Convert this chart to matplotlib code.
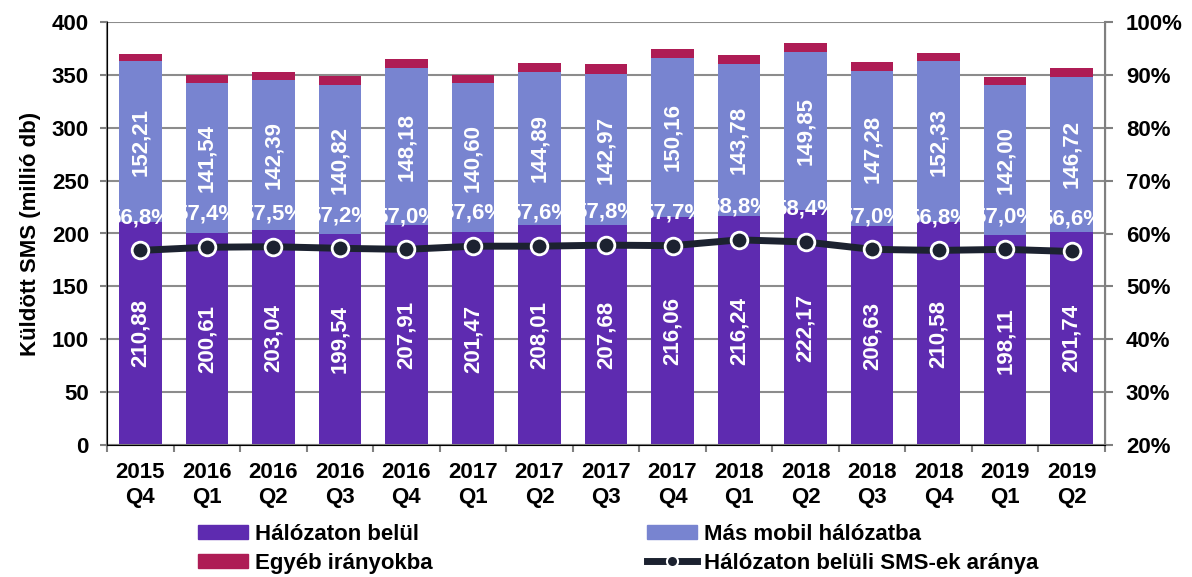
import numpy as np
import matplotlib.pyplot as plt
from matplotlib.lines import Line2D
from matplotlib.patches import Patch

plt.rcParams['font.family'] = ['Liberation Sans', 'DejaVu Sans']
plt.rcParams['font.weight'] = 'bold'

categories = ["2015\nQ4", "2016\nQ1", "2016\nQ2", "2016\nQ3", "2016\nQ4", "2017\nQ1", "2017\nQ2",
              "2017\nQ3", "2017\nQ4", "2018\nQ1", "2018\nQ2", "2018\nQ3", "2018\nQ4", "2019\nQ1", "2019\nQ2"]
belul = [210.88, 200.61, 203.04, 199.54, 207.91, 201.47, 208.01, 207.68, 216.06, 216.24, 222.17,
         206.63, 210.58, 198.11, 201.74]
mas = [152.21, 141.54, 142.39, 140.82, 148.18, 140.60, 144.89, 142.97, 150.16, 143.78, 149.85,
       147.28, 152.33, 142.00, 146.72]
egyeb = [7.0, 8.1, 6.9, 8.5, 8.5, 7.5, 8.5, 9.4, 8.2, 8.5, 8.2, 8.5, 7.5, 7.5, 8.5]
arany = [56.8, 57.4, 57.5, 57.2, 57.0, 57.6, 57.6, 57.8, 57.7, 58.8, 58.4, 57.0, 56.8, 57.0, 56.6]

c_belul = "#5E2BB0"
c_mas = "#7884D0"
c_egyeb = "#AE1C55"
c_line = "#1C2230"
fs = 16

fig = plt.figure(figsize=(11.92, 5.77), dpi=100)
ax = fig.add_axes([107 / 1192, 1 - 445 / 577, 998 / 1192, 423 / 577])
ax2 = ax.twinx()

x = np.arange(len(categories))
w = 0.64
b = np.array(belul)
m = np.array(mas)
ax.bar(x, b, w, color=c_belul, zorder=2)
ax.bar(x, m, w, bottom=b, color=c_mas, zorder=2)
ax.bar(x, egyeb, w, bottom=b + m, color=c_egyeb, zorder=2)

for i in range(len(x)):
    ax.text(x[i], b[i] / 2, f"{belul[i]:.2f}".replace(".", ","), rotation=90, ha="center", va="center",
            color="white", fontsize=fs, fontweight="bold", zorder=5)
    ax.text(x[i], b[i] + m[i] / 2, f"{mas[i]:.2f}".replace(".", ","), rotation=90, ha="center",
            va="center", color="white", fontsize=fs, fontweight="bold", zorder=5)

ax.set_ylim(0, 400)
ax.set_yticks(np.arange(0, 401, 50))
ax.set_xlim(-0.5, len(x) - 0.5)
ax.set_xticks(x)
ax.set_xticklabels(categories, fontsize=fs, fontweight="bold", linespacing=1.3)
ax.set_xticks(np.arange(-0.5, len(x), 1), minor=True)
ax.tick_params(axis="x", which="major", length=0, pad=12)
ax.tick_params(axis="x", which="minor", length=5, width=1.5, color="#808080")
ax.tick_params(axis="y", labelsize=fs, length=5, width=1.5, color="#808080", pad=8)
ax.set_ylabel("Küldött SMS (millió db)", fontsize=fs, fontweight="bold", labelpad=8)
ax.yaxis.grid(True, color="#8C8C8C", linewidth=1.5, zorder=0)
ax.set_axisbelow(True)
ax.spines["top"].set_visible(False)
ax2.spines["top"].set_visible(False)
for sp in [ax.spines["left"], ax.spines["bottom"], ax2.spines["right"]]:
    sp.set_color("#808080")
    sp.set_linewidth(1.5)

ax2.plot(x, arany, color=c_line, linewidth=5, marker="o", markersize=12,
         markerfacecolor=c_line, markeredgecolor="white", markeredgewidth=2, zorder=4)
for i in range(len(x)):
    ax2.text(x[i], arany[i] + 6.2, f"{arany[i]:.1f}%".replace(".", ","), ha="center", va="center",
             color="white", fontsize=fs, fontweight="bold", zorder=6)
ax2.set_ylim(20, 100)
ax2.set_yticks(np.arange(20, 101, 10))
ax2.set_yticklabels([f"{v}%" for v in range(20, 101, 10)])
ax2.tick_params(axis="y", labelsize=fs, length=6, width=1.5, color="#808080", pad=9)
ax2.set_zorder(ax.get_zorder() + 1)
ax2.patch.set_visible(False)

leg_kw = dict(loc="center left", frameon=False, fontsize=fs, handlelength=2.25, handleheight=0.6,
              handletextpad=0.3, labelspacing=0.35, borderpad=0, borderaxespad=0)
fig.legend([Patch(color=c_belul), Patch(color=c_egyeb)], ["Hálózaton belül", "Egyéb irányokba"],
           bbox_to_anchor=(198 / 1192, 1 - 549 / 577), **leg_kw)
fig.legend([Patch(color=c_mas),
            Line2D([0], [0], color=c_line, linewidth=5, marker="o", markersize=8,
                   markerfacecolor=c_line, markeredgecolor="white", markeredgewidth=1.5)],
           ["Más mobil hálózatba", "Hálózaton belüli SMS-ek aránya"],
           bbox_to_anchor=(647 / 1192, 1 - 549 / 577), **leg_kw)

fig.savefig("out.png", dpi=100)
